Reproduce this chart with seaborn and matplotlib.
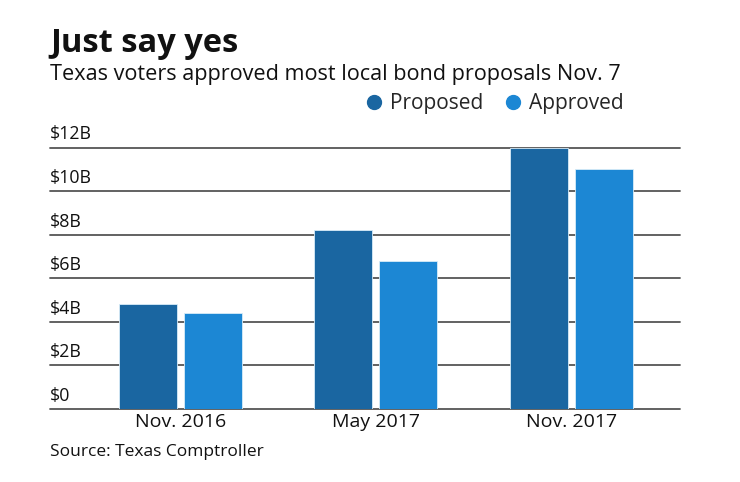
import matplotlib
matplotlib.use("Agg")
import matplotlib.pyplot as plt
import matplotlib.transforms as mtransforms
from matplotlib.lines import Line2D
import seaborn as sns
import pandas as pd

periods = ["Nov. 2016", "May 2017", "Nov. 2017"]
proposed = [4.8, 8.2, 12.0]
approved = [4.4, 6.8, 11.0]
series = ["Proposed", "Approved"]
y_ticks = [0, 2, 4, 6, 8, 10, 12]
y_labels = ["$0", "$2B", "$4B", "$6B", "$8B", "$10B", "$12B"]
colors = ["#1a66a1", "#1c87d4"]

df = pd.DataFrame({
    "period": periods * 2,
    "value": proposed + approved,
    "series": [series[0]] * 3 + [series[1]] * 3,
})

sns.set_theme(style="white")
plt.rcParams["font.family"] = ["Open Sans", "DejaVu Sans"]

W, H = 740, 482
fig = plt.figure(figsize=(W / 100, H / 100), dpi=100)
ax = fig.add_axes([50 / W, 1 - 409 / H, 630 / W, (409 - 147.5) / H])

sns.barplot(data=df, x="period", y="value", hue="series", palette=colors,
            width=0.665, gap=0.108, ax=ax, legend=False, zorder=1,
            saturation=1, linewidth=0.6, edgecolor="#d8ecf8")

ax.set_ylim(0, 12)
ax.set_xlim(-0.667, 2.555)
for s in ax.spines.values():
    s.set_visible(False)
ax.set_yticks([])
ax.set_xlabel("")
ax.set_ylabel("")
ax.tick_params(axis="x", length=0, labelsize=14, pad=3, colors="#111111")

trans = mtransforms.blended_transform_factory(ax.transAxes, ax.transData) + \
    mtransforms.ScaledTranslation(0, 4 / 100, fig.dpi_scale_trans)
for v, lab in zip(y_ticks, y_labels):
    ax.axhline(v, color="#555555", lw=1.3, zorder=0, clip_on=False)
    ax.text(0.0, v, lab, transform=trans,
            ha="left", va="bottom", fontsize=12.8, color="#111111")

fig.text(50 / W, 1 - 52 / H, "Just say yes", fontsize=23.5, fontweight="bold",
         ha="left", va="baseline", color="#111111")
fig.text(50 / W, 1 - 80 / H, "Texas voters approved most local bond proposals Nov. 7",
         fontsize=15.6, ha="left", va="baseline", color="#111111")
fig.text(50 / W, 1 - 456 / H, "Source: Texas Comptroller",
         fontsize=12.5, ha="left", va="baseline", color="#111111")

handles = [Line2D([], [], marker="o", ls="", markersize=10, color=c) for c in colors]
fig.legend(handles, series, loc="center right", bbox_to_anchor=(624 / W, 1 - 104 / H),
           frameon=False, ncol=2, fontsize=15, handletextpad=0.3, columnspacing=0.9,
           handlelength=1.0, borderaxespad=0, borderpad=0)

fig.savefig("out.png", dpi=100, facecolor="white")
